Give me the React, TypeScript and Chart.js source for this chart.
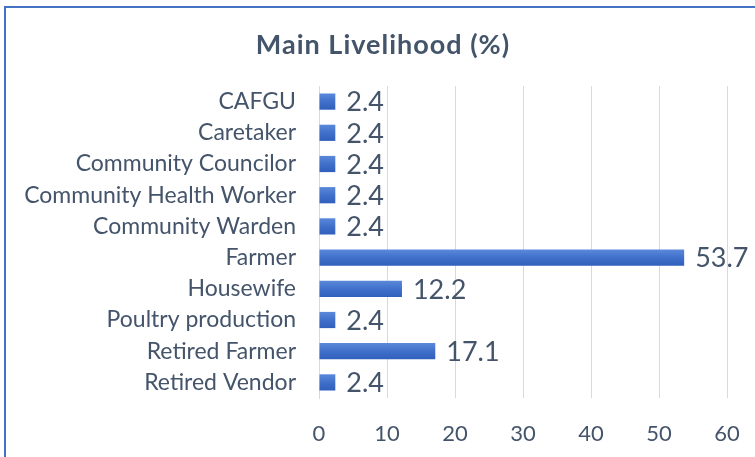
import React, { useEffect, useRef } from "react";
import { Chart, registerables } from "chart.js";

Chart.register(...registerables);

const categories = [
  "CAFGU",
  "Caretaker",
  "Community Councilor",
  "Community Health Worker",
  "Community Warden",
  "Farmer",
  "Housewife",
  "Poultry production",
  "Retired Farmer",
  "Retired Vendor",
];
const values = [2.4, 2.4, 2.4, 2.4, 2.4, 53.7, 12.2, 2.4, 17.1, 2.4];
const xTicks = [0, 10, 20, 30, 40, 50, 60];
const title = "Main Livelihood (%)";

const TEXT = "#44546A";
const FONT = "Lato, 'Noto Sans', sans-serif";

const labelPlugin = {
  id: "barLabels",
  afterDatasetsDraw(chart: any) {
    const ctx = chart.ctx;
    const meta = chart.getDatasetMeta(0);
    ctx.save();
    ctx.fillStyle = TEXT;
    ctx.font = `27px ${FONT}`;
    ctx.textAlign = "left";
    ctx.textBaseline = "middle";
    meta.data.forEach((el: any, i: number) => {
      ctx.fillText(values[i].toFixed(1), el.x + 11, el.y + 1);
    });
    ctx.restore();
  },
  afterDraw(chart: any) {
    const ctx = chart.ctx;
    ctx.save();
    ctx.fillStyle = TEXT;
    ctx.font = `bold 27px ${FONT}`;
    (ctx as any).letterSpacing = "1px";
    ctx.textAlign = "center";
    ctx.textBaseline = "middle";
    ctx.fillText(title, 383, 45);
    ctx.restore();
  },
};

const barColor = (c: any) => {
  const ys = c.chart.scales && c.chart.scales.y;
  if (!ys || c.type !== "data") return "#3F6DC6";
  const yc = ys.getPixelForValue(c.dataIndex);
  if (!isFinite(yc)) return "#3F6DC6";
  const g = c.chart.ctx.createLinearGradient(0, yc - 8, 0, yc + 8);
  g.addColorStop(0, "#5A88DA");
  g.addColorStop(0.5, "#4170CB");
  g.addColorStop(1, "#305FBC");
  return g;
};

export default function App() {
  const ref = useRef<HTMLCanvasElement>(null);
  useEffect(() => {
    if (!ref.current) return;
    const chart = new Chart(ref.current, {
      type: "bar",
      data: {
        labels: categories,
        datasets: [
          {
            data: values,
            backgroundColor: barColor,
            borderWidth: 0,
            barPercentage: 0.52,
            categoryPercentage: 1,
          },
        ],
      },
      options: {
        indexAxis: "y",
        animation: false,
        responsive: false,
        layout: { padding: { left: 15, right: 28, top: 86, bottom: 0 } },
        plugins: {
          legend: { display: false },
          tooltip: { enabled: false },
          title: { display: false },
        },
        scales: {
          x: {
            min: 0,
            max: 60,
            afterBuildTicks: (s: any) => {
              s.ticks = xTicks.map((v) => ({ value: v }));
            },
            grid: { color: "#D9D9D9", drawTicks: false, lineWidth: 1 },
            border: { display: false },
            ticks: {
              color: TEXT,
              font: { family: FONT, size: 22 },
              padding: 23,
            },
            afterFit: (s: any) => {
              s.height = 59;
              s.paddingLeft = 0;
              s.paddingRight = 0;
            },
          },
          y: {
            grid: { display: false, drawTicks: false },
            border: { display: true, color: "#D9D9D9" },
            ticks: {
              color: TEXT,
              font: { family: FONT, size: 23 },
              padding: 23,
            },
            afterFit: (s: any) => {
              s.width = 304;
              s.paddingTop = 0;
              s.paddingBottom = 0;
            },
          },
        },
      },
      plugins: [labelPlugin],
    });
    return () => chart.destroy();
  }, []);
  return (
    <div
      style={{
        position: "fixed",
        left: 0,
        top: 0,
        width: 755,
        height: 457,
        overflow: "hidden",
        background: "#fff",
      }}
    >
      <div
        style={{
          position: "absolute",
          left: 4,
          top: 6,
          width: 800,
          height: 500,
          border: "2px solid #4472C4",
          boxSizing: "border-box",
        }}
      />
      <canvas
        ref={ref}
        width={755}
        height={457}
        style={{ position: "absolute", left: 0, top: 0 }}
      />
    </div>
  );
}
